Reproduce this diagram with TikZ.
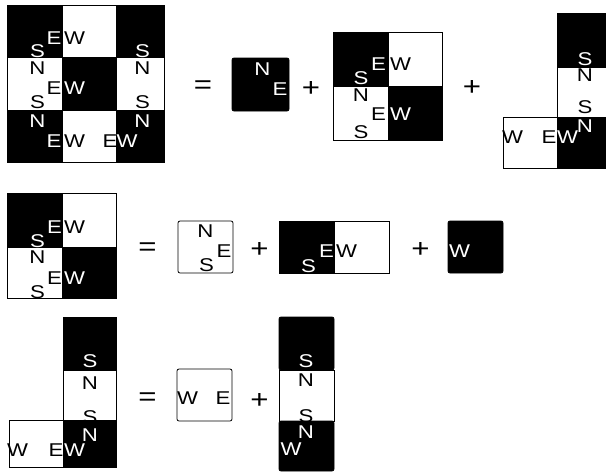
\documentclass[tikz,border=0pt]{standalone}
\usepackage{fontspec}
\newfontfamily\cellfont[FakeStretch=1.2]{Liberation Sans}

\begin{document}
\begin{tikzpicture}[
        x=1pt, y=-1pt,
        blk/.style = {draw=black, fill=black, line width=0.8pt},
        wht/.style = {draw=black, fill=white, line width=0.8pt},
        every node/.style={inner sep=0pt, font=\cellfont\fontsize{18.5}{20}\selectfont},
        wt/.style = {text=white},
        bt/.style = {text=black},
        op/.style = {text=black, font=\cellfont\fontsize{26}{26}\selectfont}
    ]
 \useasboundingbox (0,0) rectangle (606,475);

 % 3x3 board
 \draw[blk] (7,5) rectangle (62,57);
 \draw[wht] (62,5) rectangle (116,57);
 \draw[blk] (116,5) rectangle (164,57);
 \draw[wht] (7,57) rectangle (62,110);
 \draw[blk] (62,57) rectangle (116,110);
 \draw[wht] (116,57) rectangle (164,110);
 \draw[blk] (7,110) rectangle (62,162);
 \draw[wht] (62,110) rectangle (116,162);
 \draw[blk] (116,110) rectangle (164,162);
 \node[wt] (a-e1) at (54,38.5) {E};
 \node[bt] (a-w1) at (74.5,38.5) {W};
 \node[wt] (a-s1) at (37.5,51.5) {S};
 \node[bt] (a-n1) at (37.5,68) {N};
 \node[bt] (a-e2) at (54,88) {E};
 \node[wt] (a-w2) at (74.5,88) {W};
 \node[bt] (a-s2) at (37.5,102.5) {S};
 \node[wt] (a-n2) at (37.5,121.5) {N};
 \node[wt] (a-e3) at (54,141) {E};
 \node[bt] (a-w3) at (74.5,141) {W};
 \node[bt] (a-e4) at (110,141) {E};
 \node[wt] (a-w4) at (127,141) {W};
 \node[wt] (a-s3) at (142.5,51.5) {S};
 \node[bt] (a-n3) at (142.5,68) {N};
 \node[bt] (a-s4) at (142.5,102.5) {S};
 \node[wt] (a-n4) at (142.5,121.5) {N};

 \node[op] (eq1) at (203,87) {=};
 \draw[blk, rounded corners=2pt] (232,58) rectangle (289,111);
 \node[wt] (b-n) at (262.5,69.5) {N};
 \node[wt] (b-e) at (280,89.5) {E};
 \node[op] (pl1) at (311,89) {+};

 % 2x2 board
 \draw[blk] (333,32) rectangle (388,86);
 \draw[wht] (388,32) rectangle (442,86);
 \draw[wht] (333,86) rectangle (388,140);
 \draw[blk] (388,86) rectangle (442,140);
 \node[wt] (c-e1) at (378.5,64.5) {E};
 \node[bt] (c-w1) at (400.5,64.5) {W};
 \node[wt] (c-s1) at (361,78) {S};
 \node[bt] (c-n1) at (361,95) {N};
 \node[bt] (c-e2) at (378.5,114.5) {E};
 \node[wt] (c-w2) at (400.5,114.5) {W};
 \node[bt] (c-s2) at (361,132) {S};
 \node[op] (pl2) at (472,88) {+};

 % L piece
 \draw[blk] (557,13) rectangle (610,67);
 \draw[wht] (557,67) rectangle (610,117);
 \draw[blk] (557,117) rectangle (610,168);
 \draw[wht] (503,117) rectangle (557,168);
 \node[wt] (d-s1) at (585,59) {S};
 \node[bt] (d-n1) at (585,75) {N};
 \node[bt] (d-s2) at (585,107.5) {S};
 \node[wt] (d-n2) at (585,126) {N};
 \node[bt] (d-w1) at (512.5,137) {W};
 \node[bt] (d-e1) at (549,137) {E};
 \node[wt] (d-w2) at (567.5,137) {W};

 % second row
 \draw[blk] (7,193) rectangle (62,247);
 \draw[wht] (62,193) rectangle (116,247);
 \draw[wht] (7,247) rectangle (62,298);
 \draw[blk] (62,247) rectangle (116,298);
 \node[wt] (e-e1) at (54.5,227) {E};
 \node[bt] (e-w1) at (74.5,227) {W};
 \node[wt] (e-s1) at (37.5,241) {S};
 \node[bt] (e-n1) at (37.5,257.5) {N};
 \node[bt] (e-e2) at (54.5,278.5) {E};
 \node[wt] (e-w2) at (74.5,278.5) {W};
 \node[bt] (e-s2) at (37.5,292) {S};

 \node[op] (eq2) at (147.5,249) {=};
 \draw[wht, rounded corners=2pt] (178,221) rectangle (233,273);
 \node[bt] (f-n) at (205.5,231.5) {N};
 \node[bt] (f-e) at (224,251.5) {E};
 \node[bt] (f-s) at (206.5,265.5) {S};
 \node[op] (pl3) at (259.5,249.5) {+};
 \draw[blk] (279,221) rectangle (334,273);
 \draw[wht] (334,221) rectangle (389,273);
 \node[wt] (g-s) at (308.5,266) {S};
 \node[wt] (g-e) at (326.5,251.5) {E};
 \node[bt] (g-w) at (346.5,251.5) {W};
 \node[op] (pl4) at (420.5,249.5) {+};
 \draw[blk, rounded corners=2pt] (448,221) rectangle (503,273);
 \node[wt] (h-w) at (459.5,251.5) {W};

 % third row
 \draw[blk] (63,317) rectangle (116,370);
 \draw[wht] (63,370) rectangle (116,420);
 \draw[blk] (63,420) rectangle (116,467);
 \draw[wht] (9,420) rectangle (63,467);
 \node[wt] (i-s1) at (90,361) {S};
 \node[bt] (i-n1) at (90,383.5) {N};
 \node[bt] (i-s2) at (90,417.5) {S};
 \node[wt] (i-n2) at (90,435) {N};
 \node[bt] (i-w1) at (17.5,450) {W};
 \node[bt] (i-e1) at (56,450) {E};
 \node[wt] (i-w2) at (74.5,450) {W};

 \node[op] (eq3) at (147.5,399) {=};
 \draw[wht, rounded corners=2pt] (177,369) rectangle (232,421);
 \node[bt] (j-w) at (187.5,398.5) {W};
 \node[bt] (j-e) at (223,398.5) {E};
 \node[op] (pl5) at (259.5,400.5) {+};
 \draw[blk, rounded corners=2pt] (279,317) rectangle (334,370);
 \draw[wht] (279,370) rectangle (334,421);
 \draw[blk, rounded corners=2pt] (279,421) rectangle (334,471);
 \node[wt] (k-s1) at (306,361) {S};
 \node[bt] (k-n1) at (306,380) {N};
 \node[bt] (k-s2) at (306,416) {S};
 \node[wt] (k-n2) at (306,432.5) {N};
 \node[wt] (k-w) at (291,449.5) {W};
\end{tikzpicture}
\end{document}
